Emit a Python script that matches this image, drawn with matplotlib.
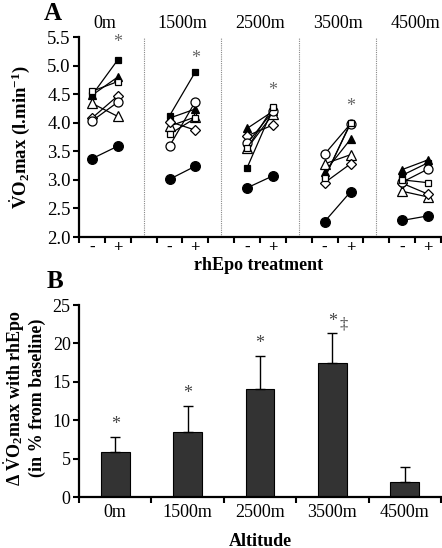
import matplotlib
matplotlib.use("Agg")
import matplotlib.pyplot as plt
import matplotlib.transforms as mtransforms

plt.rcParams['font.family'] = ['Liberation Serif', 'DejaVu Serif']
plt.rcParams['mathtext.fontset'] = 'custom'
plt.rcParams['mathtext.rm'] = 'Liberation Serif'
plt.rcParams['mathtext.bf'] = 'Liberation Serif:bold'
plt.rcParams['mathtext.it'] = 'Liberation Serif:italic'

# ---------------- data ----------------
altitudes = ['0m', '1500m', '2500m', '3500m', '4500m']
treatment = ['-', '+']

# panel A: VO2max (l/min) per subject, per altitude: [without, with rhEpo]
filled_square   = [[4.48, 5.10], [4.12, 4.89], [3.21, 4.25], [3.05, 3.98], [3.08, 3.30]]
filled_triangle = [[4.48, 4.80], [4.08, 4.24], [3.90, 4.20], [3.14, 3.71], [3.18, 3.35]]
open_triangle   = [[4.34, 4.11], [3.94, 4.10], [3.55, 4.15], [3.28, 3.44], [2.80, 2.70]]
open_diamond    = [[4.08, 4.47], [4.02, 3.87], [3.77, 3.96], [2.95, 3.28], [2.94, 2.75]]
open_circle     = [[4.03, 4.36], [3.59, 4.37], [3.64, 4.20], [3.45, 3.98], [2.96, 3.19]]
open_square     = [[4.55, 4.72], [3.80, 4.08], [3.55, 4.27], [3.03, 4.00], [3.00, 2.95]]
filled_circle   = [[3.37, 3.59], [3.01, 3.24], [2.86, 3.07], [2.27, 2.79], [2.29, 2.37]]
star_a_y = [5.40, 5.13, 4.57, 4.29, None]

# panel B: change in VO2max (% from baseline)
delta_mean = [5.9, 8.4, 14.1, 17.5, 1.9]
delta_sem  = [1.95, 3.45, 4.3, 3.8, 2.05]
star_b = ['*', '*', '*', '*\u2021', '']

# ---------------- figure ----------------
W, H = 442, 548
fig = plt.figure(figsize=(W / 100, H / 100), dpi=100)

def fx(px):
    return px / W

def fy(py):
    return 1 - py / H

axA = fig.add_axes([fx(79), fy(237), fx(441) - fx(79), fy(37) - fy(237)])
axB = fig.add_axes([fx(79), fy(497), fx(441) - fx(79), fy(305) - fy(497)])

series = [
    (filled_square,   's', 'black', 4.5),
    (filled_triangle, '^', 'black', 5.5),
    (open_triangle,   '^', 'white', 6.5),
    (open_diamond,    'D', 'white', 5.0),
    (open_circle,     'o', 'white', 6.5),
    (open_square,     's', 'white', 5.0),
    (filled_circle,   'o', 'black', 7.0),
]

ngroups = len(altitudes)
ncats = ngroups * 3 - 1
for data, mk, fc, ms in series:
    for g in range(ngroups):
        xs = [3 * g, 3 * g + 1]
        axA.plot(xs, data[g], color='black', lw=0.9, marker=mk, ms=ms,
                 mfc=fc, mec='black', mew=0.9, zorder=3)

for g in range(ngroups - 1):
    axA.axvline(3 * g + 2, color='#888888', lw=0.8, ls=(0, (1, 1)), zorder=1)

for g in range(ngroups):
    if star_a_y[g] is not None:
        axA.text(3 * g + 1, star_a_y[g], '*', ha='center', va='center',
                 fontsize=13, color='#666666')

axA.set_xlim(-0.5, ncats - 0.5)
axA.set_ylim(2.0, 5.5)
axA.set_yticks([2.0, 2.5, 3.0, 3.5, 4.0, 4.5, 5.0, 5.5])
axA.set_yticklabels(['%.1f' % v for v in [2.0, 2.5, 3.0, 3.5, 4.0, 4.5, 5.0, 5.5]])
xt, xl = [], []
for g in range(ngroups):
    xt += [3 * g, 3 * g + 1]
    xl += treatment
axA.set_xticks(xt)
axA.set_xticklabels(xl, fontweight='bold')
axA.set_xticks([i - 0.5 for i in range(ncats + 1)], minor=True)
axA.tick_params(axis='x', which='major', length=0, labelsize=12, pad=2)
axA.tick_params(axis='x', which='minor', length=4, width=1.5, direction='out')
axA.tick_params(axis='y', length=4, width=1.5, labelsize=13.5, pad=2)

trA = mtransforms.blended_transform_factory(axA.transData, axA.transAxes)
for g, name in enumerate(altitudes):
    axA.text(3 * g + 0.5, 1.07, name, transform=trA, ha='center', va='center',
             fontsize=13)

axB.bar(range(ngroups), delta_mean, width=0.4, color='#333333',
        edgecolor='black', lw=0.8, zorder=2)
axB.errorbar(range(ngroups), delta_mean, yerr=[[0] * ngroups, delta_sem],
             fmt='none', ecolor='black', elinewidth=1, capsize=3.5, capthick=1,
             zorder=3)
for g in range(ngroups):
    s = star_b[g]
    if not s:
        continue
    ytxt = delta_mean[g] + delta_sem[g] + 1.6
    axB.text(g, ytxt, s[0], ha='center', va='center', fontsize=13, color='#444444')
    if len(s) > 1:
        axB.text(g + 0.16, ytxt - 0.4, s[1:], ha='center', va='center',
                 fontsize=12, color='#444444')

axB.set_xlim(-0.5, ngroups - 0.5)
axB.set_ylim(0, 25)
axB.set_yticks([0, 5, 10, 15, 20, 25])
axB.set_xticks(range(ngroups))
axB.set_xticklabels(altitudes)
axB.set_xticks([i - 0.5 for i in range(ngroups + 1)], minor=True)
axB.tick_params(axis='x', which='major', length=0, labelsize=13, pad=5)
axB.tick_params(axis='x', which='minor', length=4, width=1.5, direction='out')
axB.tick_params(axis='y', length=4, width=1.5, labelsize=13, pad=2)

for ax in (axA, axB):
    for s in ('top', 'right'):
        ax.spines[s].set_visible(False)
    for s in ('left', 'bottom'):
        ax.spines[s].set_linewidth(1.6)

vo2 = r'$\dot{\mathbf{V}}\mathbf{O}_{\mathbf{2}}$'
fig.text(fx(20), fy(137), vo2 + 'max (l.min$^{\mathbf{-1}}$)', rotation=90,
         ha='center', va='center', fontsize=13.5, fontweight='bold')
fig.text(fx(24), fy(398), '\u0394 ' + vo2 + 'max with rhEpo\n(in % from baseline)',
         rotation=90, ha='center', va='center', fontsize=13, fontweight='bold',
         linespacing=1.1)

fig.text(fx(53), fy(13), 'A', ha='center', va='center', fontsize=18, fontweight='bold')
fig.text(fx(55), fy(281), 'B', ha='center', va='center', fontsize=18, fontweight='bold')
fig.text(fx(259), fy(266), 'rhEpo treatment', ha='center', va='center',
         fontsize=13, fontweight='bold')
fig.text(fx(260), fy(541), 'Altitude', ha='center', va='center',
         fontsize=13, fontweight='bold')

fig.savefig('out.png', dpi=100)
